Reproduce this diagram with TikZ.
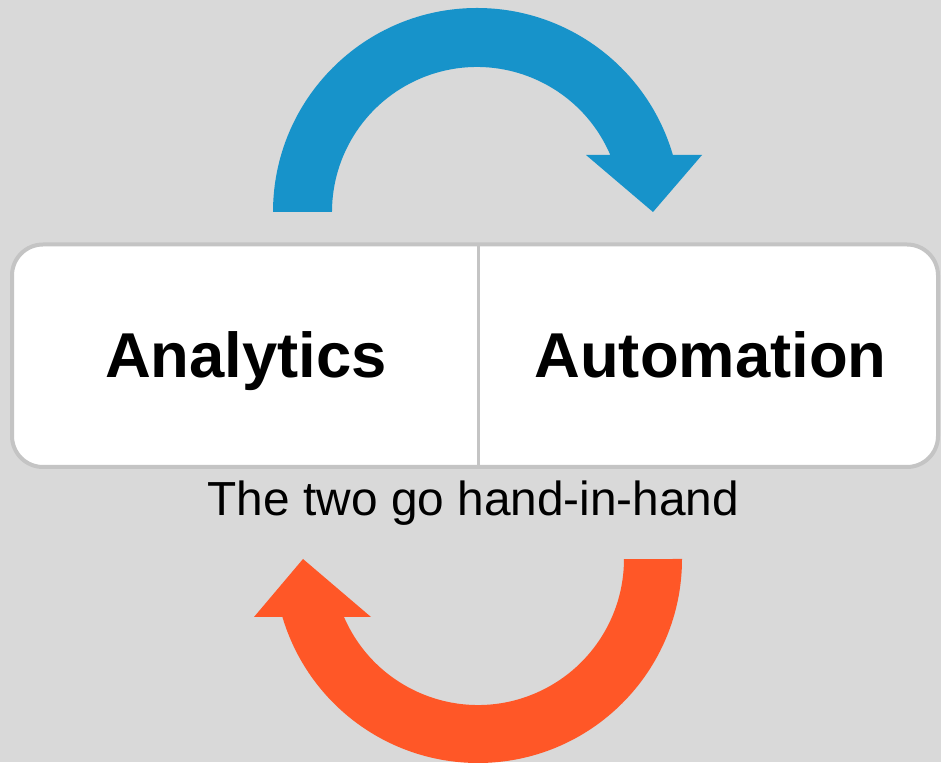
\documentclass[tikz,border=0pt]{standalone}
\usepackage{fontspec}
\setmainfont{Liberation Sans}
\definecolor{bgc}{HTML}{D9D9D9}
\definecolor{bluec}{HTML}{1793CA}
\definecolor{orangec}{HTML}{FF5727}
\definecolor{borderc}{HTML}{C4C4C4}
\tikzset{
  boxshape/.style={draw=borderc, line width=4pt, fill=white, rounded corners=31pt},
  bigtext/.style={font=\bfseries\fontsize{63.4}{70}\selectfont, inner sep=0pt, anchor=base},
  captext/.style={font=\fontsize{47.8}{54}\selectfont, inner sep=0pt, anchor=base},
}
\begin{document}
\begin{tikzpicture}[x=1pt,y=1pt]
\useasboundingbox (0,0) rectangle (941,762);
\clip (0,0) rectangle (941,762);
\fill[bgc] (0,0) rectangle (941,762);
% blue arrow (top)
\fill[bluec] (273,550) arc[start angle=180, end angle=16.23, radius=204]
  -- (702,607) -- (653,550) -- (586,607) -- (610.3,607)
  arc[start angle=23.15, end angle=180, radius=145] -- cycle;
% orange arrow (bottom)
\fill[orangec] (682,203) arc[start angle=0, end angle=-163.5, radius=204]
  -- (254,145) -- (303,203) -- (371,145) -- (344,145)
  arc[start angle=-156.6, end angle=0, radius=146] -- cycle;
% box
\node[boxshape, minimum width=926pt, minimum height=222.5pt, inner sep=0pt] (box) at (475,406.25) {};
\coordinate (divtop) at (478,517.5);
\coordinate (divbot) at (478,295);
\draw[borderc, line width=3pt] (divtop) -- (divbot);
\node[bigtext] (analytics) at (246,384) {Analytics};
\node[bigtext] (automation) at (710.5,384) {Automation};
\node[captext] (caption) at (473.5,246) {The two go hand-in-hand};
\end{tikzpicture}
\end{document}
